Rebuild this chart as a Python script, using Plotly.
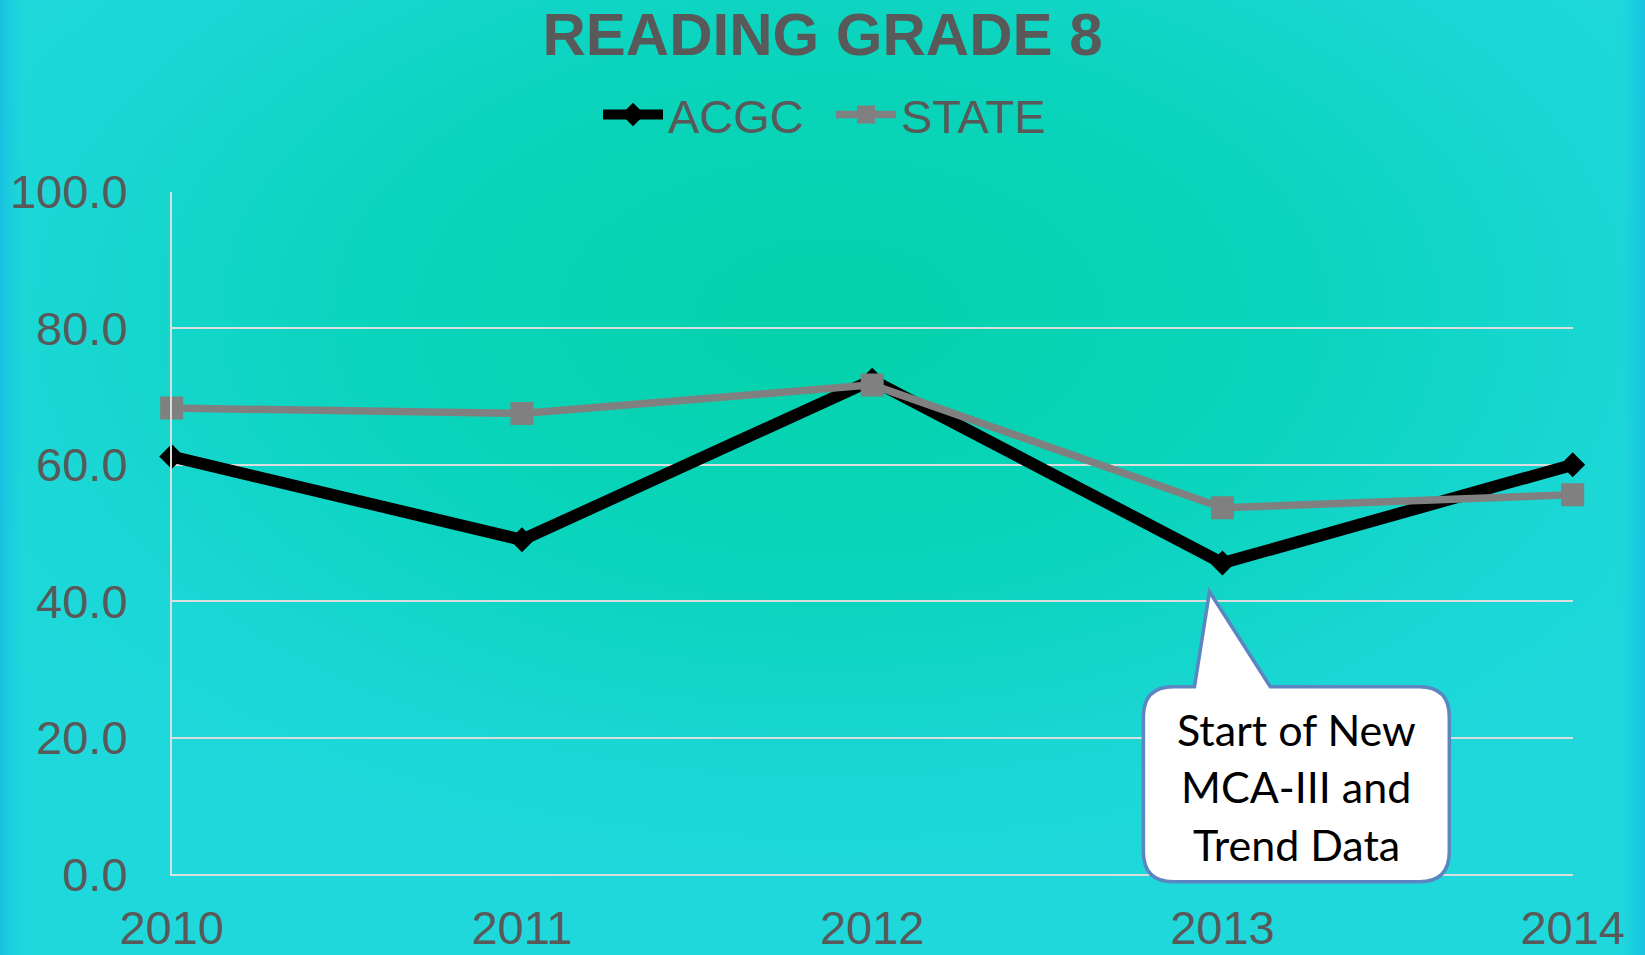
import base64
import plotly.graph_objects as go

# ---------------- data ----------------
years = [2010, 2011, 2012, 2013, 2014]
acgc = [61.2, 49.0, 72.4, 45.6, 60.0]
state = [68.3, 67.5, 71.7, 53.7, 55.6]
y_ticks = [0, 20, 40, 60, 80, 100]
title_text = "READING GRADE 8"
callout_lines = ["Start of New", "MCA-III and", "Trend Data"]

# ---------------- geometry helpers (page pixels -> paper) ----------------
W, H = 1645, 955
def px(x):
    return x / W
def py(y):
    return 1 - y / H

PLOT_L, PLOT_R = 171.7, 1572.7
PLOT_B, PLOT_T = 874.3, 191.7

TEXT_GREY = "#595959"
GRID = "#D9DEDE"

# ---------------- background gradient ----------------
svg = f"""<svg xmlns="http://www.w3.org/2000/svg" width="{W}" height="{H}" viewBox="0 0 {W} {H}" preserveAspectRatio="none">
<defs>
<radialGradient id="g" cx="0.505" cy="0.33" r="0.62">
<stop offset="0" stop-color="#03D2AA"/>
<stop offset="0.45" stop-color="#0AD4BC"/>
<stop offset="0.8" stop-color="#1BD7D6"/>
<stop offset="1" stop-color="#1FD8DC"/>
</radialGradient>
<linearGradient id="l" x1="0" x2="1" y1="0" y2="0">
<stop offset="0" stop-color="#18C0E1" stop-opacity="1"/>
<stop offset="1" stop-color="#1FD8DC" stop-opacity="0"/>
</linearGradient>
<linearGradient id="r" x1="1" x2="0" y1="0" y2="0">
<stop offset="0" stop-color="#18C0E1" stop-opacity="1"/>
<stop offset="1" stop-color="#1FD8DC" stop-opacity="0"/>
</linearGradient>
</defs>
<rect x="0" y="0" width="{W}" height="{H}" fill="url(#g)"/>
<rect x="0" y="0" width="30" height="{H}" fill="url(#l)"/>
<rect x="{W-32}" y="0" width="32" height="{H}" fill="url(#r)"/>
</svg>"""
bg_src = "data:image/svg+xml;base64," + base64.b64encode(svg.encode()).decode()

# ---------------- figure ----------------
fig = go.Figure()
fig.add_trace(go.Scatter(
    x=years, y=acgc, name="ACGC", mode="lines+markers",
    line=dict(color="#000000", width=12),
    marker=dict(symbol="diamond", size=17, color="#000000",
                line=dict(color="#000000", width=2)),
    cliponaxis=False,
))
fig.add_trace(go.Scatter(
    x=years, y=state, name="STATE", mode="lines+markers",
    line=dict(color="#808080", width=7.5),
    marker=dict(symbol="square", size=21, color="#808080",
                line=dict(color="#808080", width=2)),
    cliponaxis=False,
))

# callout bubble
L, R, T, B, rad = 1143.4, 1449.3, 686.7, 881.7, 30
tip = (1209.5, 591.7)
base_l, base_r = 1194.5, 1270.3
def P(x, y):
    return f"{px(x):.5f},{py(y):.5f}"
path = (
    f"M{P(L+rad, T)} L{P(base_l, T)} L{P(*tip)} L{P(base_r, T)} L{P(R-rad, T)} "
    f"Q{P(R, T)} {P(R, T+rad)} L{P(R, B-rad)} Q{P(R, B)} {P(R-rad, B)} "
    f"L{P(L+rad, B)} Q{P(L, B)} {P(L, B-rad)} L{P(L, T+rad)} Q{P(L, T)} {P(L+rad, T)} Z"
)
fig.add_shape(type="path", path=path, xref="paper", yref="paper",
              fillcolor="white", line=dict(color="#5B86C1", width=3.5), layer="above")

line_centers = [729.3, 786.0, 844.3]
for txt, yc in zip(callout_lines, line_centers):
    fig.add_annotation(text=txt, x=px(1296), y=py(yc), xref="paper", yref="paper",
                       xanchor="center", yanchor="middle", showarrow=False,
                       font=dict(family="Lato", size=43, color="#000000"))

fig.update_layout(
    width=W, height=H,
    margin=dict(l=0, r=0, t=0, b=0, pad=0, autoexpand=False),
    paper_bgcolor="#1FD8DC",
    plot_bgcolor="rgba(0,0,0,0)",
    images=[dict(source=bg_src, xref="paper", yref="paper", x=0, y=1,
                 sizex=1, sizey=1, xanchor="left", yanchor="top",
                 sizing="stretch", layer="below")],
    title=dict(text=f"<b>{title_text}</b>", x=0.5, xanchor="center",
               xref="paper", yref="container", y=py(34), yanchor="middle",
               font=dict(family="Liberation Sans", size=60, color=TEXT_GREY)),
    legend=dict(orientation="h", x=0.5 + 8.5 / W, xanchor="center", y=py(115), yanchor="middle",
                font=dict(family="Liberation Sans", size=47, color=TEXT_GREY),
                bgcolor="rgba(0,0,0,0)", itemwidth=60, entrywidth=158),
    showlegend=True,
    xaxis=dict(domain=[px(PLOT_L), px(PLOT_R)], range=[2010, 2014],
               tickvals=years, ticktext=[str(y) for y in years],
               showgrid=False, zeroline=False, showline=True, linecolor=GRID, linewidth=1.5,
               ticks="", ticklabelstandoff=12, automargin=False,
               tickfont=dict(family="Liberation Sans", size=47, color=TEXT_GREY)),
    yaxis=dict(domain=[py(PLOT_B), py(PLOT_T)], range=[0, 100],
               tickvals=y_ticks, tickformat=".1f",
               showgrid=True, gridcolor=GRID, gridwidth=1.5,
               zeroline=False, showline=True, linecolor=GRID, linewidth=1.5,
               ticks="", ticklabelstandoff=33, automargin=False,
               tickfont=dict(family="Liberation Sans", size=47, color=TEXT_GREY)),
)

fig.write_html("out.html", config={"displayModeBar": False},
               post_script="document.body.style.margin='0';document.body.style.overflow='hidden';")
